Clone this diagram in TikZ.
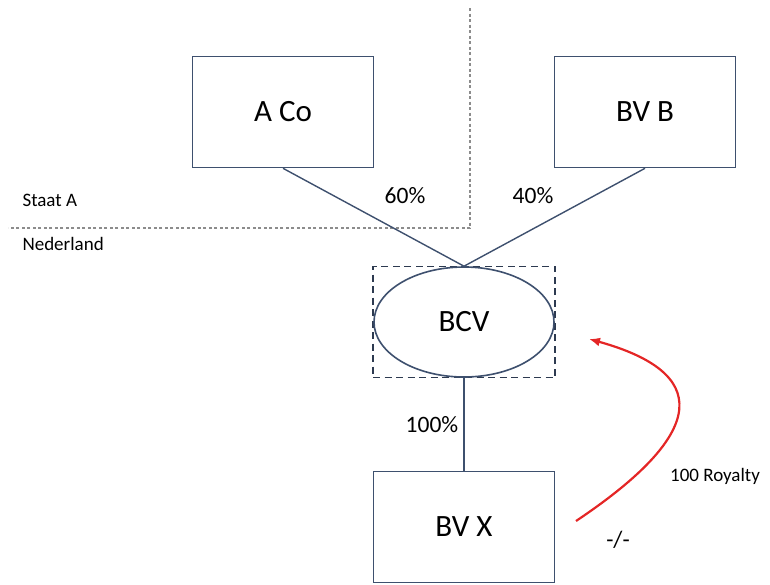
\documentclass[tikz,border=0pt]{standalone}
\usepackage{fontspec}
\setmainfont{Carlito}
\usepackage{tikz}
\usetikzlibrary{shapes.geometric,arrows.meta}
\tikzset{>=latex}
\definecolor{boxline}{RGB}{62,80,110}
\definecolor{dashline}{RGB}{45,58,80}
\definecolor{borderline}{RGB}{140,140,140}
\definecolor{flowred}{RGB}{228,38,38}
\tikzset{
	company/.style={draw=boxline, line width=1.6pt, minimum width=181pt, minimum height=111pt, font=\fontsize{31}{36}\selectfont},
	hybrid/.style={draw=boxline, line width=1.6pt, ellipse, minimum width=180pt, minimum height=110pt, font=\fontsize{31}{36}\selectfont},
	fiscal/.style={draw=dashline, line width=1.8pt, dash pattern=on 7pt off 4.5pt, minimum width=182pt, minimum height=111pt},
	share/.style={font=\fontsize{23.5}{28}\selectfont},
	small/.style={font=\fontsize{19}{23}\selectfont}
}

\begin{document}
\begin{tikzpicture}[x=1pt, y=-1pt]
		\useasboundingbox (0,0) rectangle (770,584);

		% Border between the states
		\draw[borderline, line width=1.1pt, dash pattern=on 3pt off 2.5pt] (470,8) -- (470,228) -- (8,228);
		\node[small, anchor=west] (staat) at (19,200) {Staat A};
		\node[small, anchor=west] (nl) at (19,244) {Nederland};

		% Companies
		\node[company] (aco) at (283,112) {A Co};
		\node[company] (bvb) at (645,112) {BV B};
		\node[fiscal] (fbi) at (464,322) {};
		\node[hybrid] (bcv) at (464,322) {BCV};
		\node[company] (bvx) at (464,527) {BV X};

		% Shareholdings
		\draw[boxline, line width=1.4pt] (aco.south) -- (bcv.north);
		\draw[boxline, line width=1.4pt] (bvb.south) -- (bcv.north);
		\draw[boxline, line width=1.4pt] (bcv.south) -- (bvx.north);
		\node[share] (pa) at (405,196) {60\%};
		\node[share] (pb) at (533,196) {40\%};
		\node[share] (px) at (432,425) {100\%};

		% Royalty
		\coordinate (rstart) at (576,521);
		\coordinate (rend) at (589,339);
		\draw[-{Latex[length=11pt, width=9pt]}, flowred, line width=2.2pt] (rstart) .. controls (712,430) and (708,372) .. (rend);
		\node[small] (roy) at (715,476) {100 Royalty};
		\node[share] (ded) at (618,540) {-/-};
	\end{tikzpicture}
\end{document}
